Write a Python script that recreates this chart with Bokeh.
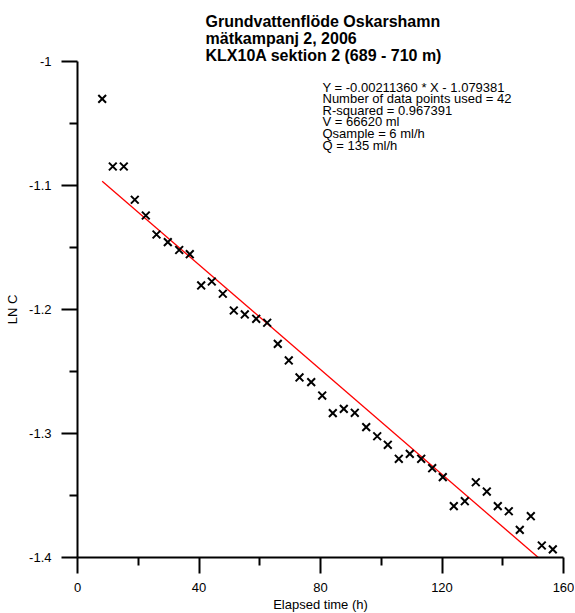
import math
from bokeh.plotting import figure
from bokeh.models import Range1d, FixedTicker, CustomJSTickFormatter, Label
from bokeh.embed import file_html
from bokeh.resources import INLINE

# ---- data ----
time_h = [8.13, 11.62, 15.24, 18.86, 22.49, 26.01, 29.73, 33.48, 36.97, 40.72,
          44.21, 47.84, 51.46, 55.08, 58.83, 62.45, 65.94, 69.56, 73.09, 76.94,
          80.56, 84.05, 87.67, 91.29, 95.05, 98.67, 102.16, 105.78, 109.40, 113.15,
          116.77, 120.26, 123.89, 127.51, 131.13, 134.75, 138.37, 141.99, 145.61, 149.24,
          152.86, 156.48]
ln_c = [-1.0301, -1.0847, -1.0847, -1.1115, -1.1242, -1.1395, -1.1457, -1.1520, -1.1554, -1.1806,
        -1.1774, -1.1873, -1.2008, -1.2040, -1.2075, -1.2107, -1.2277, -1.2411, -1.2548, -1.2586,
        -1.2694, -1.2836, -1.2801, -1.2833, -1.2949, -1.3022, -1.3091, -1.3204, -1.3164, -1.3204,
        -1.3280, -1.3352, -1.3586, -1.3546, -1.3393, -1.3468, -1.3586, -1.3627, -1.3777, -1.3667,
        -1.3903, -1.3935]

fit_slope = -0.00211360
fit_intercept = -1.079381

x_min, x_max = 0, 160
y_min, y_max = -1.4, -1.0
x_ticks = [0, 40, 80, 120, 160]
x_minor = [20, 60, 100, 140]
y_ticks = [-1.4, -1.3, -1.2, -1.1, -1.0]
y_minor = [-1.35, -1.25, -1.15, -1.05]

title_lines = ["Grundvattenflöde Oskarshamn",
               "mätkampanj 2, 2006",
               "KLX10A sektion 2 (689 - 710 m)"]
info_lines = ["Y = -0.00211360 * X - 1.079381",
              "Number of data points used = 42",
              "R-squared = 0.967391",
              "V = 66620 ml",
              "Qsample = 6 ml/h",
              "Q = 135 ml/h"]
x_label = "Elapsed time (h)"
y_label = "LN C"

FONT = "Liberation Sans"

# layout (pixels): the frame fills the whole canvas; axes are drawn at fixed data spots
W, H = 574, 612
AXIS_LEFT_PX = 77      # where x = 0 sits
AXIS_RIGHT_PX = 563    # where x = 160 sits
AXIS_TOP_PX = 61       # where y = -1.0 sits
AXIS_BOTTOM_PX = 557   # where y = -1.4 sits
px_x = (AXIS_RIGHT_PX - AXIS_LEFT_PX) / (x_max - x_min)
px_y = (AXIS_BOTTOM_PX - AXIS_TOP_PX) / (y_max - y_min)
x_left = x_min - AXIS_LEFT_PX / px_x
x_right = x_max + (W - AXIS_RIGHT_PX) / px_x
y_top = y_max + AXIS_TOP_PX / px_y
y_bottom = y_min - (H - AXIS_BOTTOM_PX) / px_y

p = figure(width=W, height=H,
           x_range=Range1d(x_left, x_right), y_range=Range1d(y_bottom, y_top),
           output_backend="svg", toolbar_location=None,
           min_border_left=0, min_border_right=0,
           min_border_top=0, min_border_bottom=0)
p.title.visible = False
p.outline_line_color = None
p.grid.visible = False
p.background_fill_color = "white"
p.border_fill_color = "white"

for ax in (p.xaxis[0], p.yaxis[0]):
    ax.axis_line_width = 2
    ax.axis_line_color = "black"
    ax.major_tick_line_width = 2
    ax.major_tick_line_color = "black"
    ax.minor_tick_line_width = 2
    ax.minor_tick_line_color = "black"
    ax.major_tick_in = 0
    ax.major_tick_out = 16
    ax.minor_tick_in = 0
    ax.minor_tick_out = 8
    ax.major_label_text_font = FONT
    ax.major_label_text_font_size = "13px"
    ax.major_label_text_color = "black"

p.xaxis.ticker = FixedTicker(ticks=x_ticks, minor_ticks=x_minor)
p.yaxis.ticker = FixedTicker(ticks=y_ticks, minor_ticks=y_minor)
p.yaxis.bounds = (y_min, y_max)
p.xaxis.bounds = (x_min, x_max)
p.yaxis.fixed_location = x_min
p.xaxis.fixed_location = y_min
p.yaxis.formatter = CustomJSTickFormatter(code="return String(Math.round(tick*10)/10);")
p.xaxis.major_label_standoff = 9
p.yaxis.major_label_standoff = 10

# fit line, stopped where it meets the bottom of the y scale
x_start = time_h[0]
x_stop = min(time_h[-1], (y_min - fit_intercept) / fit_slope)
x_fit = [x_start, x_stop]
y_fit = [fit_slope * x + fit_intercept for x in x_fit]
p.line(x_fit, y_fit, line_color="#ff0000", line_width=1.3)

# data points
p.scatter(time_h, ln_c, marker="x", size=11, line_color="black", line_width=2)

# title (screen units measured from the canvas' bottom-left corner here)
for i, t in enumerate(title_lines):
    p.add_layout(Label(x=205, y=H - 20.5 - 17 * i, x_units="screen", y_units="screen",
                       text=t, text_font=FONT, text_font_size="16px",
                       text_font_style="bold", text_color="black",
                       text_baseline="alphabetic", text_align="left"))

# info block
for i, t in enumerate(info_lines):
    p.add_layout(Label(x=322, y=H - 86.5 - 11.6 * i, x_units="screen", y_units="screen",
                       text=t, text_font=FONT, text_font_size="13px",
                       text_color="black", text_baseline="alphabetic", text_align="left"))

# axis titles
p.add_layout(Label(x=12, y=H - 309, x_units="screen", y_units="screen",
                   text=y_label, text_font=FONT, text_font_size="13px", angle=math.pi / 2,
                   text_color="black", text_baseline="middle", text_align="center"))
p.add_layout(Label(x=(AXIS_LEFT_PX + AXIS_RIGHT_PX) / 2, y=H - 604, x_units="screen", y_units="screen",
                   text=x_label, text_font=FONT, text_font_size="13px",
                   text_color="black", text_baseline="middle", text_align="center"))

open("out.html", "w").write(file_html(p, INLINE))
